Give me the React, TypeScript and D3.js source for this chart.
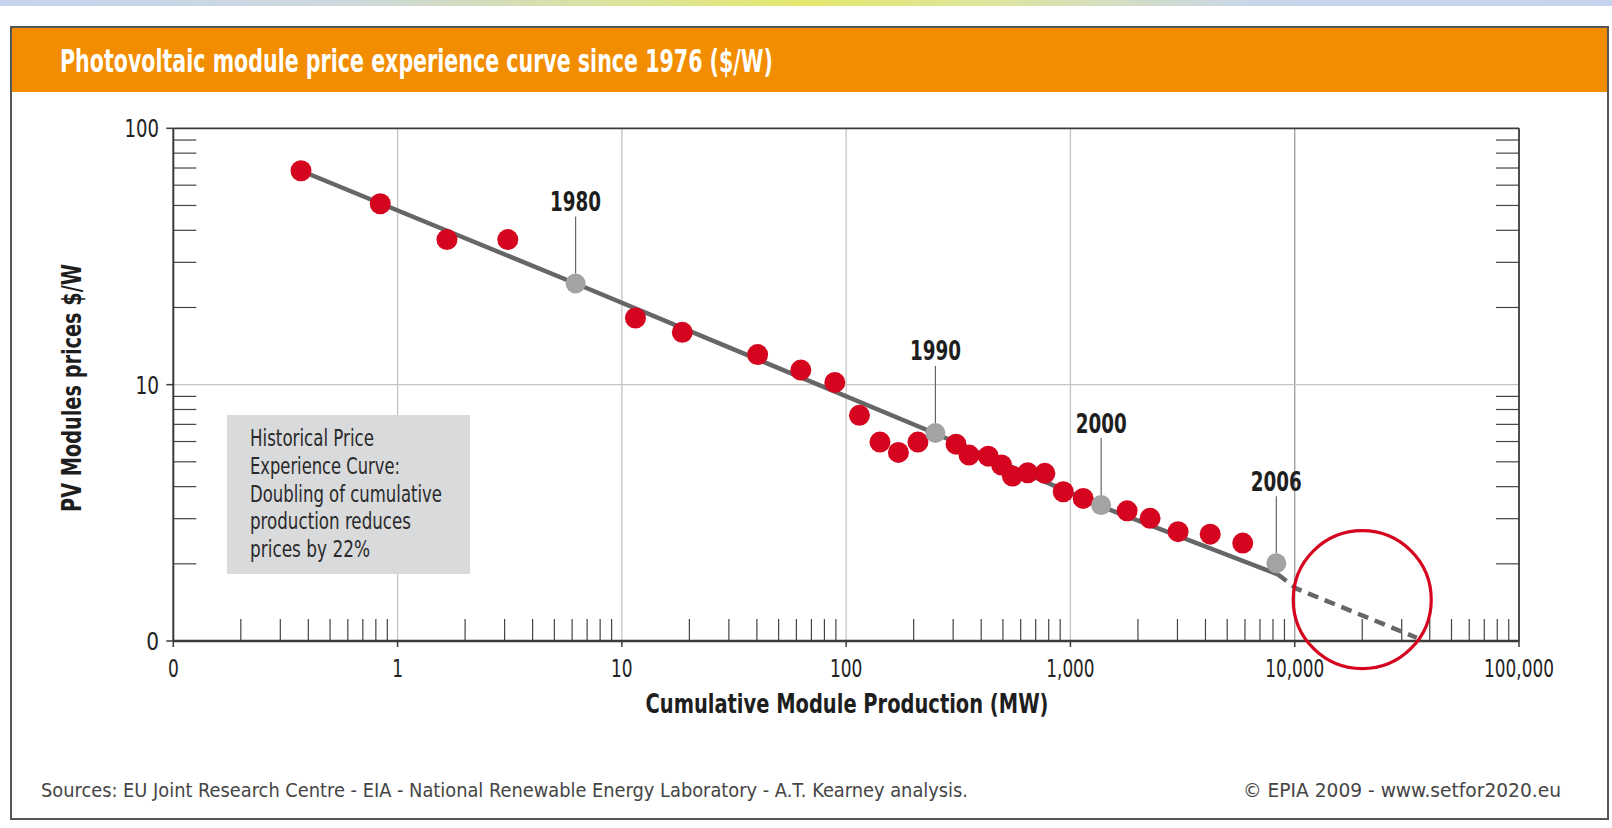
import React from "react";
import * as d3 from "d3";

// ---- data ----
const title = "Photovoltaic module price experience curve since 1976 ($/W)";
const xTickValues = [0.1, 1, 10, 100, 1000, 10000, 100000];
const xTickLabels = ["0", "1", "10", "100", "1,000", "10,000", "100,000"];
const yTickValues = [1, 10, 100];
const yTickLabels = ["0", "10", "100"];

// historical module prices (cumulative MW, $/W)
const histX = [0.371, 0.837, 1.66, 3.1, 11.5, 18.6, 40.3, 62.8, 89.0, 114.6, 141.5, 171, 209, 309, 353, 430, 493, 551, 645, 769, 929, 1140, 1790, 2265, 3020, 4200, 5865];
const histY = [68.3, 50.8, 36.8, 36.8, 18.2, 16.0, 13.1, 11.4, 10.2, 7.59, 5.97, 5.44, 5.97, 5.86, 5.31, 5.26, 4.86, 4.4, 4.53, 4.51, 3.82, 3.6, 3.22, 3.01, 2.67, 2.61, 2.41];

// milestone years on the experience curve
const yearLabels = ["1980", "1990", "2000", "2006"];
const yearX = [6.22, 250, 1371, 8280];
const yearY = [24.8, 6.48, 3.39, 2.01];

// fitted experience curve (solid) and projection (dashed)
const trendX = [0.371, 6.22, 250, 1371, 8400];
const trendY = [68.3, 24.8, 6.45, 3.35, 1.82];
const projX = [8400, 10200, 35000];
const projY = [1.82, 1.6, 1.03];

// highlight circle centre
const circleX = 20000;
const circleY = 1.45;

const boxLines = ["Historical Price", "Experience Curve:", "Doubling of cumulative", "production reduces", "prices by 22%"];
const boxWidths = [124, 150, 192, 161, 120];

const xTitle = "Cumulative Module Production (MW)";
const yTitle = "PV Modules prices $/W";
const sources = "Sources: EU Joint Research Centre - EIA - National Renewable Energy Laboratory - A.T. Kearney analysis.";
const copyright = "\u00A9 EPIA 2009 - www.setfor2020.eu";

const FONT = "'Liberation Sans Narrow','DejaVu Sans Condensed','Roboto Condensed','Liberation Sans',Arial,sans-serif";

const W = 1612;
const H = 828;
const L = 173.3, R = 1519, T = 128.3, B = 641;

const x = d3.scaleLog().domain([0.1, 100000]).range([L, R]);
const y = d3.scaleLog().domain([1, 100]).range([B, T]);

const isPow10 = (v: number) => Math.abs(Math.log10(v) - Math.round(Math.log10(v))) < 1e-9;
const xMinor = x.ticks().filter((v) => !isPow10(v));
const yMinor = y.ticks().filter((v) => !isPow10(v));

const labelWidth = (s: string) => {
  let w = 0;
  for (const c of s) w += c === "," ? 5 : 10.8;
  return w;
};

export default function App() {
  const line = d3
    .line<[number, number]>()
    .x((d) => x(d[0]))
    .y((d) => y(d[1]));
  const trend = line(trendX.map((v, i) => [v, trendY[i]] as [number, number]));
  const proj = line(projX.map((v, i) => [v, projY[i]] as [number, number]));

  return (
    <div style={{ position: "absolute", left: 0, top: 0 }}>
      <svg width={W} height={H} style={{ display: "block", background: "#fff" }} fontFamily={FONT}>
        <defs>
          <linearGradient id="topband" x1="0" x2="1" y1="0" y2="0">
            <stop offset="0" stopColor="#c6d3ee" />
            <stop offset="0.22" stopColor="#cdd9dc" />
            <stop offset="0.5" stopColor="#e4e86e" />
            <stop offset="0.62" stopColor="#dde4a0" />
            <stop offset="0.78" stopColor="#c8d6ea" />
            <stop offset="1" stopColor="#c6d3ee" />
          </linearGradient>
        </defs>
        <rect x={0} y={0} width={W} height={6} fill="url(#topband)" />

        {/* outer frame + header */}
        <rect x={11} y={27} width={1597} height={792} fill="#fff" stroke="#555" strokeWidth={2} />
        <rect x={12} y={28} width={1595} height={64} fill="#f28d00" />
        <text x={60} y={72} fontSize={32} fontWeight="bold" fill="#fff" textLength={713} lengthAdjust="spacingAndGlyphs">
          {title}
        </text>

        {/* gridlines */}
        {xTickValues.slice(1, -1).map((v) => (
          <line key={"gx" + v} x1={x(v)} x2={x(v)} y1={T} y2={B} stroke={v === 10000 ? "#9a9a9a" : "#c4c4c4"} strokeWidth={1.3} />
        ))}
        <line x1={L} x2={R} y1={y(10)} y2={y(10)} stroke="#c4c4c4" strokeWidth={1.3} />

        {/* minor ticks */}
        {xMinor.map((v) => (
          <line key={"mx" + v} x1={x(v)} x2={x(v)} y1={B} y2={B - 22} stroke="#444" strokeWidth={1.2} />
        ))}
        {yMinor.map((v) => (
          <g key={"my" + v}>
            <line x1={L} x2={L + 23} y1={y(v)} y2={y(v)} stroke="#444" strokeWidth={1.2} />
            <line x1={R} x2={R - 23} y1={y(v)} y2={y(v)} stroke="#444" strokeWidth={1.2} />
          </g>
        ))}

        {/* frame */}
        <line x1={L} x2={R} y1={T} y2={T} stroke="#3a3a3a" strokeWidth={1.8} />
        <line x1={R} x2={R} y1={T} y2={B} stroke="#3a3a3a" strokeWidth={1.8} />
        <line x1={L} x2={L} y1={T} y2={B} stroke="#3a3a3a" strokeWidth={2} />
        <line x1={L} x2={R} y1={B} y2={B} stroke="#3a3a3a" strokeWidth={2.4} />

        {/* major ticks + labels */}
        {xTickValues.map((v, i) => (
          <g key={"tx" + v}>
            <line x1={x(v)} x2={x(v)} y1={B} y2={B + 6} stroke="#3a3a3a" strokeWidth={1.5} />
            <text x={x(v)} y={677} fontSize={25} fill="#222" textAnchor="middle" textLength={labelWidth(xTickLabels[i])} lengthAdjust="spacingAndGlyphs">
              {xTickLabels[i]}
            </text>
          </g>
        ))}
        {yTickValues.map((v, i) => (
          <g key={"ty" + v}>
            <line x1={L - 7} x2={L} y1={y(v)} y2={y(v)} stroke="#3a3a3a" strokeWidth={1.5} />
            <text x={159} y={y(v) + 9} fontSize={25} fill="#222" textAnchor="end" textLength={labelWidth(yTickLabels[i]) + 2} lengthAdjust="spacingAndGlyphs">
              {yTickLabels[i]}
            </text>
          </g>
        ))}

        {/* annotation box */}
        <rect x={227} y={415} width={243} height={159} fill="#d9dadc" />
        {boxLines.map((s, i) => (
          <text key={s} x={250} y={446 + i * 27.8} fontSize={23} fill="#2a2a2a" textLength={boxWidths[i]} lengthAdjust="spacingAndGlyphs">
            {s}
          </text>
        ))}

        {/* experience curve */}
        <path d={trend || ""} fill="none" stroke="#666" strokeWidth={4.5} strokeLinejoin="round" />
        <path d={proj || ""} fill="none" stroke="#666" strokeWidth={4.5} strokeDasharray="11,7" />

        {/* historical points */}
        {histX.map((v, i) => (
          <circle key={"p" + i} cx={x(v)} cy={y(histY[i])} r={10.5} fill="#d5051f" />
        ))}

        {/* year markers */}
        {yearLabels.map((s, i) => {
          const cx = x(yearX[i]);
          const cy = y(yearY[i]);
          return (
            <g key={s}>
              <line x1={cx} x2={cx} y1={cy - 67} y2={cy - 10} stroke="#666" strokeWidth={1.2} />
              <circle cx={cx} cy={cy} r={10} fill="#a3a3a3" />
              <text x={cx} y={cy - 72.5} fontSize={26} fontWeight="bold" fill="#1e1e1e" textAnchor="middle" textLength={51} lengthAdjust="spacingAndGlyphs">
                {s}
              </text>
            </g>
          );
        })}

        {/* highlight circle */}
        <circle cx={x(circleX)} cy={y(circleY)} r={69} fill="none" stroke="#d5051f" strokeWidth={3.2} />

        {/* axis titles */}
        <text x={847} y={713} fontSize={27} fontWeight="bold" fill="#1e1e1e" textAnchor="middle" textLength={403} lengthAdjust="spacingAndGlyphs">
          {xTitle}
        </text>
        <text transform="translate(81,388) rotate(-90)" x={0} y={0} fontSize={27} fontWeight="bold" fill="#1e1e1e" textAnchor="middle" textLength={248} lengthAdjust="spacingAndGlyphs">
          {yTitle}
        </text>

        {/* footer */}
        <text x={41} y={797} fontSize={20} fill="#454545" textLength={927} lengthAdjust="spacingAndGlyphs">
          {sources}
        </text>
        <text x={1561} y={797} fontSize={20} fill="#454545" textAnchor="end" textLength={318} lengthAdjust="spacingAndGlyphs">
          {copyright}
        </text>
      </svg>
    </div>
  );
}
